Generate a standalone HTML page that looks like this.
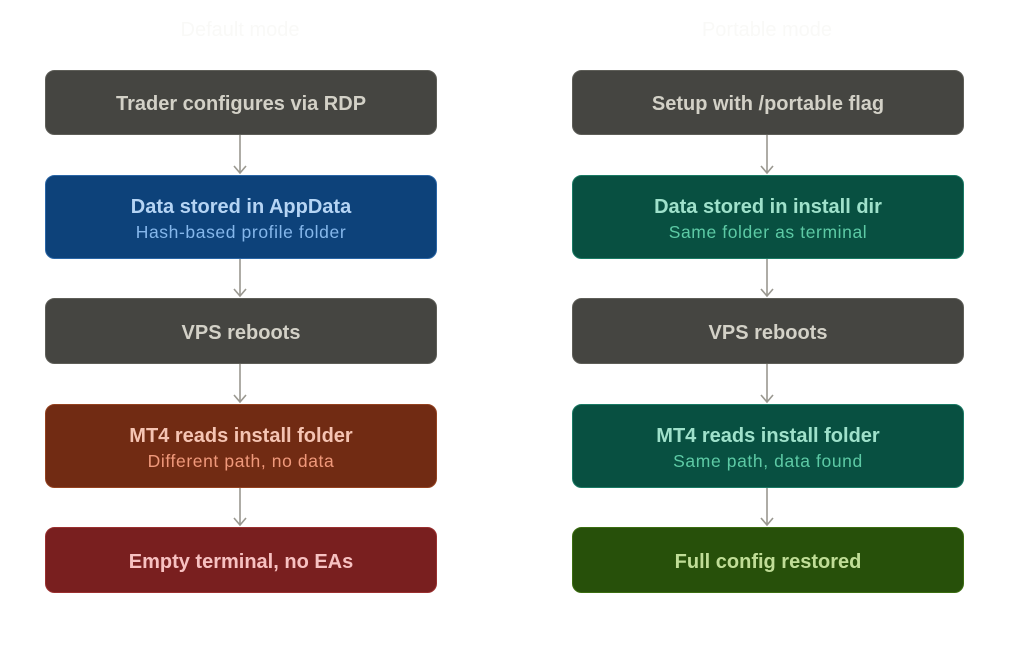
<!DOCTYPE html>
<html><head><meta charset="utf-8"><style>
html,body{margin:0;padding:0;background:#fff;}
svg{display:block;font-family:"Liberation Sans",sans-serif;}
</style></head><body>
<svg width="1024" height="663" viewBox="0 0 1024 663">
<text x="240" y="36" font-size="20" fill="#f9f9f7" text-anchor="middle">Default mode</text>
<text x="767" y="36" font-size="20" fill="#f9f9f7" text-anchor="middle">Portable mode</text>
<g stroke="#9a9890" stroke-width="1.6" fill="none">
<path d="M240 134V173M234 166L240 173L246 166"/>
<path d="M240 258V296M234 289L240 296L246 289"/>
<path d="M240 363V402M234 395L240 402L246 395"/>
<path d="M240 487V525M234 518L240 525L246 518"/>
<path d="M767 134V173M761 166L767 173L773 166"/>
<path d="M767 258V296M761 289L767 296L773 289"/>
<path d="M767 363V402M761 395L767 402L773 395"/>
<path d="M767 487V525M761 518L767 525L773 518"/>
</g>
<g stroke-width="1">
<rect x="45.5" y="70.5" width="391" height="64" rx="9" fill="#454541" stroke="#5e5e58"/>
<rect x="45.5" y="175.5" width="391" height="83" rx="9" fill="#0d427a" stroke="#2a66a6"/>
<rect x="45.5" y="298.5" width="391" height="65" rx="9" fill="#454541" stroke="#5e5e58"/>
<rect x="45.5" y="404.5" width="391" height="83" rx="9" fill="#712b13" stroke="#944220"/>
<rect x="45.5" y="527.5" width="391" height="65" rx="9" fill="#791f1f" stroke="#9a3030"/>
<rect x="572.5" y="70.5" width="391" height="64" rx="9" fill="#454541" stroke="#5e5e58"/>
<rect x="572.5" y="175.5" width="391" height="83" rx="9" fill="#085041" stroke="#1a7a64"/>
<rect x="572.5" y="298.5" width="391" height="65" rx="9" fill="#454541" stroke="#5e5e58"/>
<rect x="572.5" y="404.5" width="391" height="83" rx="9" fill="#085041" stroke="#1a7a64"/>
<rect x="572.5" y="527.5" width="391" height="65" rx="9" fill="#27500a" stroke="#3b6d11"/>
</g>
<g font-size="20" text-anchor="middle" font-weight="bold">
<text x="241" y="110" fill="#d3d1c7">Trader configures via RDP</text>
<text x="241" y="213" fill="#b5d4f4">Data stored in AppData</text>
<text x="241" y="339" fill="#d3d1c7">VPS reboots</text>
<text x="241" y="442" fill="#f5c4b3">MT4 reads install folder</text>
<text x="241" y="568" fill="#f7c1c1">Empty terminal, no EAs</text>
<text x="768" y="110" fill="#d3d1c7">Setup with /portable flag</text>
<text x="768" y="213" fill="#9fe1cb">Data stored in install dir</text>
<text x="768" y="339" fill="#d3d1c7">VPS reboots</text>
<text x="768" y="442" fill="#9fe1cb">MT4 reads install folder</text>
<text x="768" y="568" fill="#c0dd97">Full config restored</text>
</g>
<g font-size="17.5" text-anchor="middle" letter-spacing="0.6">
<text x="241" y="238" fill="#85b7eb">Hash-based profile folder</text>
<text x="241" y="467" fill="#f0997b">Different path, no data</text>
<text x="768" y="238" fill="#5dcaa5">Same folder as terminal</text>
<text x="768" y="467" fill="#5dcaa5">Same path, data found</text>
</g>
</svg>
</body></html>
